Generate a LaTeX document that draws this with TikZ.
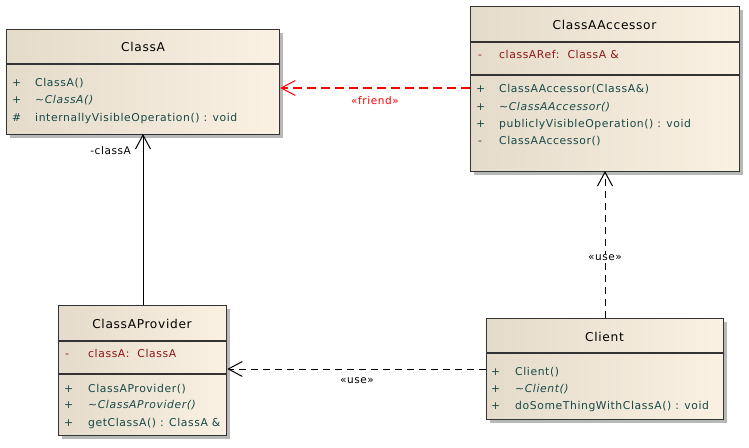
\documentclass[tikz,border=0pt]{standalone}
\usepackage{fontspec}
\setmainfont[LetterSpace=5.5]{DejaVu Sans}
\usetikzlibrary{arrows.meta}
\definecolor{boxleft}{HTML}{E4DBCB}
\definecolor{boxright}{HTML}{FBF1E2}
\definecolor{opcol}{HTML}{174848}
\definecolor{attcol}{HTML}{8E1616}
\definecolor{shadowcol}{HTML}{B8B8B8}
\begin{document}
\begin{tikzpicture}[x=1pt,y=-1pt,
  every node/.style={font=\fontsize{10.8}{12}\selectfont, inner sep=0pt},
  umlbox/.style={draw=black!80, line width=1.3pt, left color=boxleft, right color=boxright, rectangle, anchor=north west},
  shadowbox/.style={fill=shadowcol, draw=none},
  title/.style={font=\fontsize{12.2}{13}\selectfont, text=black},
  vis/.style={anchor=base west, text=opcol},
  op/.style={anchor=base west, text=opcol},
  att/.style={anchor=base west, text=attcol},
  divider/.style={draw=black!80, line width=1.1pt},
  barb/.style={-{Straight Barb[length=14pt,width=15pt,line width=1pt]}},
  stereo/.style={font=\fontsize{10.5}{11}\selectfont}
]
\useasboundingbox (0,0) rectangle (749,447);
\fill[white] (0,0) rectangle (749,447);

% shadows
\fill[shadowbox] (10,33) rectangle (283,138);
\fill[shadowbox] (474,10) rectangle (743,175);
\fill[shadowbox] (62,309) rectangle (230,439);
\fill[shadowbox] (490,322) rectangle (727,423);

% ClassA
\node[umlbox, minimum width=273pt, minimum height=105pt] (classA) at (6,29) {};
\draw[divider] (6,64) -- (279,64);
\node[title] (classAt) at (143,47) {ClassA};
\node[vis] (a1v) at (12,86) {+};
\node[op] (a1) at (35,86) {ClassA()};
\node[vis] (a2v) at (12,103) {+};
\node[op] (a2) at (35,103) {\itshape\textasciitilde ClassA()};
\node[vis] (a3v) at (12,121) {\#};
\node[op] (a3) at (35,121) {internallyVisibleOperation() : void};

% ClassAAccessor
\node[umlbox, minimum width=269pt, minimum height=165pt] (acc) at (470,6) {};
\draw[divider] (470,42) -- (739,42);
\draw[divider] (470,75) -- (739,75);
\node[title] (acct) at (604.5,25) {ClassAAccessor};
\node[att] (b0v) at (478,58) {-};
\node[att] (b0) at (499,58) {classARef:\ \ ClassA \&};
\node[vis] (b1v) at (476,92) {+};
\node[op] (b1) at (499,92) {ClassAAccessor(ClassA\&)};
\node[vis] (b2v) at (476,110) {+};
\node[op] (b2) at (499,110) {\itshape\textasciitilde ClassAAccessor()};
\node[vis] (b3v) at (476,127) {+};
\node[op] (b3) at (499,127) {publiclyVisibleOperation() : void};
\node[vis] (b4v) at (478,144) {-};
\node[op] (b4) at (499,144) {ClassAAccessor()};

% ClassAProvider
\node[umlbox, minimum width=168pt, minimum height=130pt] (prov) at (58,305) {};
\draw[divider] (58,341) -- (226,341);
\draw[divider] (58,374) -- (226,374);
\node[title] (provt) at (142,324) {ClassAProvider};
\node[att] (c0v) at (65,357) {-};
\node[att] (c0) at (88,357) {classA:\ \ ClassA};
\node[vis] (c1v) at (64,392) {+};
\node[op] (c1) at (88,392) {ClassAProvider()};
\node[vis] (c2v) at (64,408) {+};
\node[op] (c2) at (88,408) {\itshape\textasciitilde ClassAProvider()};
\node[vis] (c3v) at (64,426) {+};
\node[op] (c3) at (88,426) {getClassA() : ClassA \&};

% Client
\node[umlbox, minimum width=237pt, minimum height=101pt] (client) at (486,318) {};
\draw[divider] (486,353) -- (723,353);
\node[title] (clientt) at (604.5,337) {Client};
\node[vis] (d1v) at (491,375) {+};
\node[op] (d1) at (515,375) {Client()};
\node[vis] (d2v) at (491,392) {+};
\node[op] (d2) at (515,392) {\itshape\textasciitilde Client()};
\node[vis] (d3v) at (491,409) {+};
\node[op] (d3) at (515,409) {doSomeThingWithClassA() : void};

% connectors
\coordinate (fr1) at (acc.west |- 0,88);
\coordinate (fr2) at (classA.east |- 0,88);
\draw[barb, red, line width=2pt, dash pattern=on 9pt off 5pt] (fr1) -- (fr2);
\node[stereo, text=red] (frl) at (375,101) {«friend»};

\coordinate (pa1) at (143,305);
\coordinate (pa2) at (143,134);
\draw[barb, line width=0.9pt] (pa1) -- (pa2);
\node[stereo, anchor=east] (pal) at (131,151) {-classA};

\coordinate (u1) at (client.west |- 0,369);
\coordinate (u2) at (prov.east |- 0,369);
\draw[barb, line width=0.9pt, dash pattern=on 7pt off 5pt] (u1) -- (u2);
\node[stereo] (ul) at (357,381) {«use»};

\coordinate (v1) at (605,318);
\coordinate (v2) at (605,171);
\draw[barb, line width=0.9pt, dash pattern=on 7pt off 5pt] (v1) -- (v2);
\node[stereo, fill=white, inner sep=1pt] (vl) at (605,258) {«use»};
\end{tikzpicture}
\end{document}
